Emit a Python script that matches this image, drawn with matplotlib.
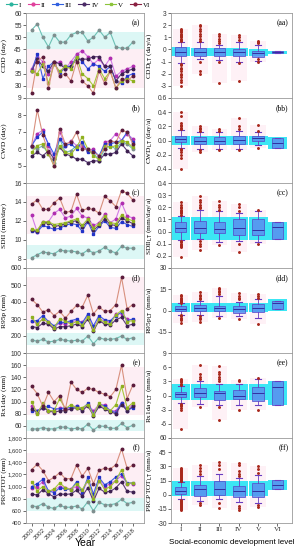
import matplotlib
matplotlib.use("Agg")
import matplotlib.pyplot as plt
from matplotlib.ticker import FuncFormatter
import numpy as np

plt.rcParams['font.family'] = ['Liberation Sans', 'DejaVu Sans']

years = list(range(2000, 2019))
groups = ['I', 'II', 'III', 'IV', 'V', 'VI']

# ---- left column: yearly series per group ----
cdd = {
    'I':   [53, 55.5, 50, 46, 51, 48, 48, 51, 52, 52, 48.5, 50, 53, 50, 52, 46, 45.5, 45.5, 48],
    'II':  [37, 42, 40, 35, 39, 40, 37, 40, 43, 44.5, 42, 39, 41, 38, 41.5, 34, 36, 37, 38],
    'III': [36, 43, 33, 38, 40, 35, 38, 38, 42, 40, 37, 39, 38, 36, 38, 32, 31, 34, 35],
    'IV':  [36, 41, 38, 36, 40, 39, 37, 38, 41, 41, 41, 42, 42, 38, 38, 32, 35, 36, 37],
    'V':   [36, 35, 39, 31, 39, 36, 38, 37, 42, 35, 33, 30, 37, 33, 36, 29, 32, 33, 32],
    'VI':  [27, 40, 42, 29, 40, 34, 35, 32, 40, 32, 30, 27, 36, 31, 36, 29, 33, 32, 34],
}
cwd = {
    'I':   [6.1, 6.0, 6.2, 5.7, 5.2, 6.6, 5.8, 5.9, 6.2, 6.3, 5.9, 5.8, 5.3, 6.0, 6.2, 6.0, 6.4, 6.3, 6.0],
    'II':  [6.2, 6.9, 7.1, 6.2, 5.5, 7.0, 6.2, 6.5, 6.2, 6.1, 5.9, 6.0, 5.5, 6.4, 6.5, 6.9, 6.5, 6.9, 6.6],
    'III': [6.2, 6.7, 7.0, 6.3, 5.7, 6.6, 6.2, 6.3, 6.0, 6.4, 5.8, 5.9, 5.6, 6.3, 6.3, 6.4, 6.5, 7.0, 6.4],
    'IV':  [5.6, 5.8, 5.6, 5.9, 5.4, 6.1, 5.7, 5.6, 5.4, 5.4, 5.2, 5.3, 5.3, 5.7, 5.7, 5.8, 6.3, 5.9, 5.6],
    'V':   [5.8, 6.2, 6.3, 5.7, 5.0, 6.2, 5.8, 5.7, 6.1, 6.7, 6.0, 5.6, 5.4, 6.2, 6.1, 6.2, 6.5, 6.4, 6.1],
    'VI':  [6.2, 8.3, 6.8, 5.8, 5.0, 7.2, 6.3, 6.4, 7.0, 6.0, 6.0, 5.8, 5.6, 6.0, 6.5, 6.4, 7.1, 7.0, 6.3],
}
sdii = {
    'I':   [8.1, 8.4, 8.7, 8.6, 8.5, 8.9, 8.8, 8.8, 8.7, 8.5, 8.9, 8.6, 8.8, 9.2, 8.8, 8.6, 9.3, 9.1, 9.1],
    'II':  [12.6, 10.8, 11.9, 11.9, 12.8, 13.2, 12.3, 12.5, 13.3, 12.5, 12.3, 11.5, 11.8, 12.7, 11.8, 12.2, 13.9, 12.5, 12.3],
    'III': [10.9, 10.8, 11.5, 11.3, 11.1, 11.2, 11.5, 11.7, 11.6, 10.9, 11.9, 10.6, 11.4, 12.0, 11.3, 11.2, 11.9, 11.6, 11.4],
    'IV':  [11.0, 10.9, 11.8, 11.8, 11.4, 11.5, 11.7, 11.9, 12.0, 11.3, 12.0, 11.0, 11.5, 12.2, 11.6, 11.5, 12.3, 12.0, 11.7],
    'V':   [11.1, 11.0, 11.9, 11.9, 11.6, 11.7, 11.8, 12.0, 12.2, 11.5, 12.2, 11.2, 11.7, 12.5, 11.8, 11.7, 12.6, 12.2, 12.0],
    'VI':  [13.8, 14.2, 13.2, 13.2, 13.9, 14.4, 12.9, 13.0, 14.8, 13.1, 13.3, 13.2, 12.8, 14.6, 14.1, 13.5, 15.2, 14.9, 14.2],
}
r95p = {
    'I':   [175, 170, 180, 165, 170, 180, 175, 170, 175, 170, 200, 155, 190, 180, 180, 185, 200, 180, 190],
    'II':  [290, 275, 300, 280, 255, 275, 270, 285, 290, 280, 320, 250, 300, 290, 280, 330, 330, 300, 295],
    'III': [290, 290, 320, 285, 260, 280, 280, 290, 300, 275, 330, 260, 320, 295, 290, 320, 340, 290, 300],
    'IV':  [255, 250, 275, 270, 240, 255, 255, 260, 270, 255, 300, 230, 290, 270, 265, 295, 310, 260, 270],
    'V':   [310, 270, 300, 280, 250, 300, 290, 270, 285, 265, 310, 235, 300, 280, 270, 325, 350, 285, 290],
    'VI':  [415, 385, 340, 355, 320, 345, 305, 345, 380, 370, 440, 330, 370, 345, 350, 385, 545, 360, 385],
}
rx1day = {
    'I':   [55, 55, 57, 55, 55, 58, 58, 55, 56, 55, 63, 53, 60, 59, 56, 56, 64, 57, 61],
    'II':  [92, 85, 90, 85, 85, 90, 88, 90, 93, 88, 95, 85, 95, 95, 85, 85, 98, 88, 95],
    'III': [85, 85, 90, 92, 88, 88, 90, 90, 92, 88, 97, 80, 95, 93, 85, 82, 98, 85, 90],
    'IV':  [88, 82, 90, 85, 82, 85, 85, 88, 90, 85, 93, 77, 92, 88, 83, 80, 95, 85, 92],
    'V':   [100, 80, 97, 85, 85, 105, 88, 95, 90, 90, 95, 78, 97, 90, 85, 95, 125, 90, 98],
    'VI':  [125, 113, 92, 115, 100, 110, 87, 132, 120, 115, 122, 120, 115, 112, 108, 120, 160, 105, 127],
}
prcptot = {
    'I':   [680, 670, 720, 660, 640, 690, 660, 660, 680, 630, 750, 600, 740, 700, 700, 720, 790, 720, 740],
    'II':  [980, 1000, 1080, 900, 950, 1000, 980, 960, 1000, 900, 1100, 850, 1100, 1000, 1050, 1100, 1180, 1050, 1050],
    'III': [1000, 1050, 1120, 930, 900, 980, 960, 950, 1080, 900, 1150, 880, 1150, 1030, 1080, 1160, 1210, 1060, 1060],
    'IV':  [880, 860, 950, 880, 830, 880, 870, 880, 940, 840, 980, 760, 970, 910, 920, 980, 1080, 920, 910],
    'V':   [1080, 930, 1000, 920, 960, 1060, 980, 950, 1050, 950, 1100, 800, 1100, 950, 1000, 1100, 1280, 1050, 1060],
    'VI':  [1280, 1370, 1260, 1100, 1150, 1230, 1130, 1130, 1360, 1170, 1300, 1050, 1270, 1300, 1290, 1360, 1620, 1300, 1350],
}

# shaded bands behind the series (pink = upper groups, cyan = group I)
pink_bands = [(29, 45), None, (10.6, 14.6), (235, 550), (78, 157), (790, 1545)]
cyan_bands = [(45, 52), None, (8.0, 9.4), (150, 215), (52, 70), (590, 820)]

# ---- right column: trend boxplots per development level ----
# each: q1, median, q3, whisker low, whisker high
box_aa = [(-0.5, -0.2, 0.2, -1.1, 0.6), (-0.5, -0.25, 0.1, -0.8, 0.6), (-0.55, -0.25, 0.1, -0.9, 0.4),
          (-0.5, -0.2, 0.05, -1.0, 0.6), (-0.6, -0.3, -0.1, -0.95, 0.35), (-0.3, -0.2, -0.1, -0.3, -0.1)]
box_bb = [(-0.02, 0.02, 0.07, -0.1, 0.15), (-0.05, 0.0, 0.05, -0.12, 0.12), (-0.05, 0.0, 0.05, -0.12, 0.12),
          (-0.05, 0.01, 0.06, -0.12, 0.14), (-0.01, 0.03, 0.07, -0.07, 0.12), (-0.1, -0.03, 0.04, -0.1, 0.04)]
box_cc = [(0.0, 0.03, 0.075, -0.07, 0.13), (-0.01, 0.03, 0.09, -0.06, 0.18), (-0.015, 0.025, 0.08, -0.09, 0.17),
          (-0.03, 0.03, 0.1, -0.08, 0.15), (-0.03, 0.015, 0.1, -0.09, 0.17), (-0.06, 0.035, 0.08, -0.06, 0.08)]
box_dd = [(-0.5, 1, 3, -3, 5), (0, 1.5, 4, -3, 7), (0, 1.5, 3.5, -4, 10.5),
          (-1.5, 1, 3.5, -4, 6), (-1, 1.5, 4.5, -5, 8), (1, 5.5, 7, 1, 7)]
box_ee = [(-0.3, 0.3, 0.8, -1.5, 2), (-0.3, 0.6, 1.5, -1.8, 3), (-1, 0.5, 1, -2, 2.5),
          (-0.8, 0, 1.1, -2, 2.5), (-1.2, 0.5, 1.8, -2, 3.5), (-2, 1.8, 3, -2, 3)]
box_ff = [(1, 4, 8, -5, 13), (-1, 5.5, 10, -7, 20), (0, 6.5, 14, -5, 22),
          (-2, 4, 9, -8, 18), (-2, 4, 12, -9, 21), (6, 10, 16, 6, 16)]

out_aa = [[0.7, 0.8, 0.9, 1.0, 1.1, 1.2, 1.3, 1.4, 1.5, 1.6, 1.7, -1.2, -1.3, -1.5, -1.6, -1.8, -2.0, -2.1, -2.3, -2.5, -2.7, -3.0],
          [0.7, 0.9, 1.1, 1.3, 1.5, 1.7, 1.9, 2.0, -1.0, -1.8, -2.0],
          [0.5, 0.7, 0.9, 1.1, 1.3, -1.0, -2.8],
          [0.8, 1.0, 1.2, -1.1, -2.6],
          [0.5, 0.6, 0.7, -0.8, -1.0], []]
out_bb = [[0.16, 0.18, 0.2, 0.22, 0.25, 0.35, 0.4, -0.12, -0.14, -0.16, -0.2, -0.24, -0.4],
          [0.14, 0.16, 0.18, 0.2, -0.14, -0.16],
          [0.14, 0.16, -0.14],
          [0.16, 0.2, 0.32, -0.14],
          [0.14, 0.22, -0.1], []]
out_cc = [[0.14, 0.15, 0.16, 0.17, 0.18, 0.19, 0.2, 0.22, 0.24, -0.08, -0.09, -0.1, -0.11, -0.12, -0.13, -0.21],
          [0.19, 0.2, 0.22, 0.24, 0.26, 0.29, -0.08, -0.1, -0.12, -0.15],
          [0.18, 0.2, 0.22, 0.25, -0.11],
          [0.17, 0.2, 0.23, -0.1, -0.17],
          [0.18, -0.1], []]
out_dd = [[5.5, 6, 6.5, 7, 7.5, 8, 9, 10, 11, -3.5, -4, -5, -6, -7, -9],
          [8, 9, 10, 11, 13, -4, -5, -6, -8],
          [12, 13, 14, 15, 16, -5],
          [8, 9, 10, 12.5, -6],
          [9, 10, 12, -9.5], []]
out_ee = [[2.2, 2.5, 2.8, 3.0, 3.3, 3.5, -1.8, -2.0, -2.3, -2.6, -3.0, -7.0],
          [3.5, 4.0, 4.5, 6.4, -2.5],
          [3.0, 3.5, 4.0, 4.5, 5.0, 6.2, -2.5, -5.2],
          [3.0, 3.3, -3.0],
          [3.7, -3.0], []]
out_ff = [[14, 15, 16, 17, 18, 19, 20, 21, 22, 23, 24, 25, 26, 27, 28, -6, -7, -8, -9, -10, -11, -12, -13, -14, -15, -16],
          [22, 25, 28, 31, -9, -11],
          [27, 31, 35, -9, -14],
          [20, 22, 25, 31, 34, -12, -14, -16],
          [23, 27, 30, -11, -13], []]

# cyan "typical range" rectangles behind the boxes (low, high)
cyan_aa = [(-0.5, 0.2), (-0.5, 0.15), (-0.5, 0.1), (-0.5, 0.1), (-0.5, 0.05), (-0.35, -0.1)]
cyan_bb = [(-0.07, 0.07), (-0.07, 0.07), (-0.07, 0.07), (-0.07, 0.07), (-0.07, 0.07), (-0.12, 0.05)]
cyan_cc = [(-0.07, 0.12), (-0.07, 0.12), (-0.07, 0.12), (-0.07, 0.12), (-0.07, 0.12), (-0.07, 0.08)]
cyan_dd = [(-1, 5), (-1, 5), (-1, 5), (-1, 5), (-1, 5), (0, 8)]
cyan_ee = [(-1, 2.5), (-1, 2.5), (-1, 2.5), (-1, 2.5), (-1, 2.5), (-2, 3)]
cyan_ff = [(-1, 15), (-1, 15), (-1, 15), (-1, 15), (-1, 15), (5, 16)]

line_colors = {'I': '#6cc0b4', 'II': '#d27be6', 'III': '#3f5fe6', 'IV': '#5a3a78', 'V': '#a8c83c', 'VI': '#d8907e'}
mark_colors = {'I': '#7f8f8f', 'II': '#b02eb0', 'III': '#2233c8', 'IV': '#3d2050', 'V': '#8fb020', 'VI': '#5c1c3c'}
leg_colors = {'I': '#2cb49e', 'II': '#e0409c', 'III': '#3060e0', 'IV': '#4a2a66', 'V': '#8cc43a', 'VI': '#8a1f40'}
markers = {'I': 'o', 'II': 'o', 'III': 's', 'IV': 'o', 'V': 's', 'VI': 'o'}

left_panels = [
    (cdd, 'CDD (day)', (25, 60), [30, 35, 40, 45, 50, 55, 60], '(a)'),
    (cwd, 'CWD (day)', (4, 9), [5, 6, 7, 8, 9], '(b)'),
    (sdii, 'SDII (mm/day)', (7, 16), [8, 10, 12, 14, 16], '(c)'),
    (r95p, 'R95p (mm)', (100, 600), [100, 200, 300, 400, 500, 600], '(d)'),
    (rx1day, 'Rx1day (mm)', (40, 180), [60, 80, 100, 120, 140, 160], '(e)'),
    (prcptot, 'PRCPTOT (mm)', (400, 1800), [400, 600, 800, 1000, 1200, 1400, 1600, 1800], '(f)'),
]
right_panels = [
    (box_aa, out_aa, cyan_aa, 'CDD$_{\\mathrm{LT}}$ (day/a)', (-4, 3), [-3, -2, -1, 0, 1, 2, 3], '(aa)', '{:.0f}'),
    (box_bb, out_bb, cyan_bb, 'CWD$_{\\mathrm{LT}}$ (day/a)', (-0.6, 0.6), [-0.4, -0.2, 0.0, 0.2, 0.4, 0.6], '(bb)', '{:.1f}'),
    (box_cc, out_cc, cyan_cc, 'SDII$_{\\mathrm{LT}}$ (mm/day/a)', (-0.3, 0.4), [-0.2, -0.1, 0.0, 0.1, 0.2, 0.3, 0.4], '(cc)', '{:.1f}'),
    (box_dd, out_dd, cyan_dd, 'R95p$_{\\mathrm{LT}}$ (mm/a)', (-30, 30), [-15, 0, 15, 30], '(dd)', '{:.0f}'),
    (box_ee, out_ee, cyan_ee, 'Rx1day$_{\\mathrm{LT}}$ (mm/a)', (-9, 9), [-6, -3, 0, 3, 6, 9], '(ee)', '{:.0f}'),
    (box_ff, out_ff, cyan_ff, 'PRCPTOT$_{\\mathrm{LT}}$ (mm/a)', (-30, 60), [-30, -15, 0, 15, 30, 45, 60], '(ff)', '{:.0f}'),
]

W, H = 294, 550
fig = plt.figure(figsize=(W / 100, H / 100), dpi=100)
top0, ph = 13, 85
serif = ['Liberation Serif', 'DejaVu Serif']
spine_col = '#9a9a9a'


def style_axes(ax, size=4.8):
    for s in ax.spines.values():
        s.set_color(spine_col)
        s.set_linewidth(0.6)
    ax.tick_params(labelsize=size, length=2, width=0.5, pad=1, colors='#333333')


for i, (data, ylab, ylim, yt, tag) in enumerate(left_panels):
    ax = fig.add_axes([26 / W, 1 - (top0 + (i + 1) * ph) / H, 118 / W, ph / H])
    if pink_bands[i]:
        ax.axhspan(*pink_bands[i], color='#fdeef4', zorder=0, lw=0)
    if cyan_bands[i]:
        ax.axhspan(*cyan_bands[i], color='#dcf7f5', zorder=0, lw=0)
    for g in groups:
        ax.plot(years, data[g], color=line_colors[g], lw=0.8, marker=markers[g], ms=1.8,
                mfc=mark_colors[g], mec=mark_colors[g], zorder=2)
    ax.set_xlim(1999, 2020)
    ax.set_ylim(*ylim)
    ax.set_yticks(yt)
    ax.set_xticks(list(range(2000, 2019, 2)))
    if i == 5:
        ax.yaxis.set_major_formatter(FuncFormatter(lambda v, p: f'{v:,.0f}'))
        style_axes(ax, 4.2)
        ax.set_ylabel(ylab, fontsize=5.0, family=serif)
    else:
        style_axes(ax)
        ax.set_ylabel(ylab, fontsize=5.3, family=serif)
    ax.yaxis.set_label_coords(-19 / 118, 0.5)
    if i < 5:
        ax.tick_params(labelbottom=False, bottom=False)
    else:
        for lab in ax.get_xticklabels():
            lab.set_rotation(45)
            lab.set_ha('right')
            lab.set_rotation_mode('anchor')
            lab.set_fontsize(4.5)
    ax.text(0.97, 0.93, tag, transform=ax.transAxes, ha='right', va='top', fontsize=5.5, family=serif)

pos = np.arange(1, 7)
for i, (boxes, outs, cyans, ylab, ylim, yt, tag, fmt) in enumerate(right_panels):
    ax = fig.add_axes([171 / W, 1 - (top0 + (i + 1) * ph) / H, 121 / W, ph / H])
    stats = []
    for k, g in enumerate(groups):
        q1, med, q3, wl, wh = boxes[k]
        stats.append(dict(label=g, q1=q1, med=med, q3=q3, whislo=wl, whishi=wh, fliers=outs[k]))
        lo, hi = cyans[k]
        ax.bar(pos[k], hi - lo, bottom=lo, width=0.98, color='#3ce6f4', lw=0, zorder=1)
        span = outs[k] + [wl, wh]
        ax.bar(pos[k], max(span) - min(span), bottom=min(span), width=0.8,
               color='#fef1f6', lw=0, zorder=0)
    ax.bxp(stats, positions=pos, widths=0.6, patch_artist=True, showcaps=True,
           boxprops=dict(facecolor='#5a8ef0', edgecolor='#5546c8', lw=0.6, alpha=0.85),
           medianprops=dict(color='#3030a0', lw=0.7),
           whiskerprops=dict(color='#6a3cc0', lw=0.6),
           capprops=dict(color='#6a3cc0', lw=0.8),
           flierprops=dict(marker='o', ms=1.1, mfc='#a8281c', mec='#a8281c'),
           zorder=3)
    ax.set_xlim(0.5, 6.75)
    ax.set_ylim(*ylim)
    ax.set_yticks(yt)
    ax.yaxis.set_major_formatter(FuncFormatter(lambda v, p, f=fmt: f.format(v)))
    ax.set_ylabel(ylab, fontsize=5.3, family=serif)
    ax.yaxis.set_label_coords(-17 / 121, 0.5)
    style_axes(ax)
    if i < 5:
        ax.tick_params(labelbottom=False, bottom=False)
    else:
        ax.set_xticks(pos)
        ax.set_xticklabels(groups, family=serif, fontsize=5.3)
    ax.text(0.97, 0.93, tag, transform=ax.transAxes, ha='right', va='top', fontsize=5.5, family=serif)

fig.text(85 / W, 1 - 543 / H, 'Year', ha='center', va='center', fontsize=7.5)
fig.text(232 / W, 1 - 542 / H, 'Social-economic development level', ha='center', va='center', fontsize=5.8)

# legend across the top of the left column
handles = [plt.Line2D([], [], color=leg_colors[g], lw=0.8, marker=markers[g], ms=2) for g in groups]
fig.legend(handles, groups, loc='center', bbox_to_anchor=(78 / W, 1 - 5 / H), ncol=6, frameon=False,
           prop={'family': serif, 'size': 5}, handlelength=1.6, columnspacing=0.9,
           handletextpad=0.3, borderpad=0)

fig.savefig('out.png', dpi=100)
